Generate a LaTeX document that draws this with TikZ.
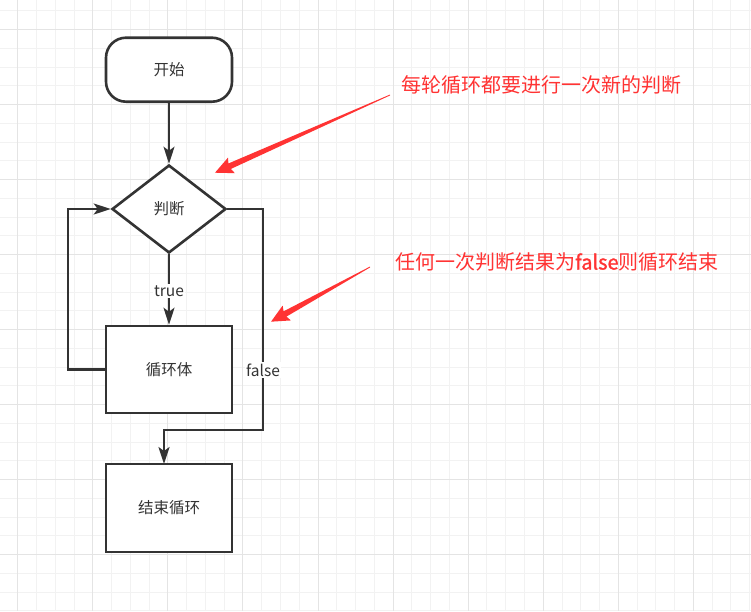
\documentclass[tikz,border=0pt]{standalone}
\usepackage{fontspec}
\setmainfont{Noto Sans CJK SC}
\newfontfamily\semibf[FakeBold=1.3]{Noto Sans CJK SC}
\usetikzlibrary{arrows.meta,shapes.geometric}
\definecolor{ink}{HTML}{333333}
\definecolor{redc}{HTML}{FF3333}
\definecolor{gminor}{HTML}{F2F2F2}
\definecolor{gmajor}{HTML}{E4E4E4}
\tikzset{
  shapebox/.style={draw=ink, line width=2.6pt, fill=white, text=ink, inner sep=0pt,
    font=\fontsize{15.5}{18}\selectfont},
  startbox/.style={shapebox, rectangle, rounded corners=20pt, minimum width=126pt, minimum height=64pt},
  decbox/.style={shapebox, diamond, minimum width=114pt, minimum height=88pt},
  procbox/.style={shapebox, rectangle, minimum width=126pt, minimum height=87pt},
  edge/.style={draw=ink, line width=2.3pt, -{Stealth[length=17pt,width=11pt,inset=4pt]}},
  lbl/.style={fill=white, text=ink, inner sep=1.5pt, font=\fontsize{15.5}{18}\selectfont},
  note/.style={anchor=west, text=redc, inner sep=0pt, font=\fontsize{20}{24}\selectfont},
  redarrow/.style={fill=redc}
}
\begin{document}
\begin{tikzpicture}[x=1pt,y=-1pt]
\fill[white] (0,0) rectangle (751,611);
\useasboundingbox (0,0) rectangle (751,611);
% grid
\foreach \i in {0,...,40} { \draw[gminor, line width=1pt] ({-1.05+18.77*\i},0) -- ++(0,611); }
\foreach \i in {0,...,32} { \draw[gminor, line width=1pt] (0,{10.95+18.75*\i}) -- ++(751,0); }
\foreach \i in {0,...,9} { \draw[gmajor, line width=1pt] ({17.7+75.08*\i},0) -- ++(0,611); }
\foreach \i in {0,...,7} { \draw[gmajor, line width=1pt] (0,{29.7+75*\i}) -- ++(751,0); }

% nodes
\node[startbox] (start) at (169,69.7) {开始};
\node[decbox] (dec) at (169,209) {判断};
\node[procbox] (body) at (169,369.5) {循环体};
\node[procbox, minimum height=88pt] (endb) at (169,508) {结束循环};

\coordinate (loopx) at (68,369.5);
\coordinate (fr) at (263,430);
\coordinate (ein) at (164,464);

% connectors
\draw[edge] (start) -- (dec);
\draw[edge] (dec) -- (body);
\node[lbl] (tlbl) at (169,291) {true};
\draw[edge] (body.west) -- (loopx) |- (dec.west);
\draw[edge] (dec.east) -| (fr) -| (ein);
\node[lbl] (flbl) at (263,370) {false};

% red notes
\fill[redarrow, shift={(390,95)}, rotate=203.94]
  (0,0.4) -- (175.5,3) -- (173.5,8.5) -- (191.5,0) -- (173.5,-8.5) -- (175.5,-3) -- (0,-0.4) -- cycle;
\fill[redarrow, shift={(370,267)}, rotate=208.92]
  (0,0.4) -- (97.1,3) -- (95.1,8.5) -- (113.1,0) -- (95.1,-8.5) -- (97.1,-3) -- (0,-0.4) -- cycle;
\node[note] (n1) at (401.5,85) {每轮循环都要进行一次新的判断};
\node[note] (n2) at (395,262) {任何一次判断结果为{\semibf false}则循环结束};
\end{tikzpicture}
\end{document}
